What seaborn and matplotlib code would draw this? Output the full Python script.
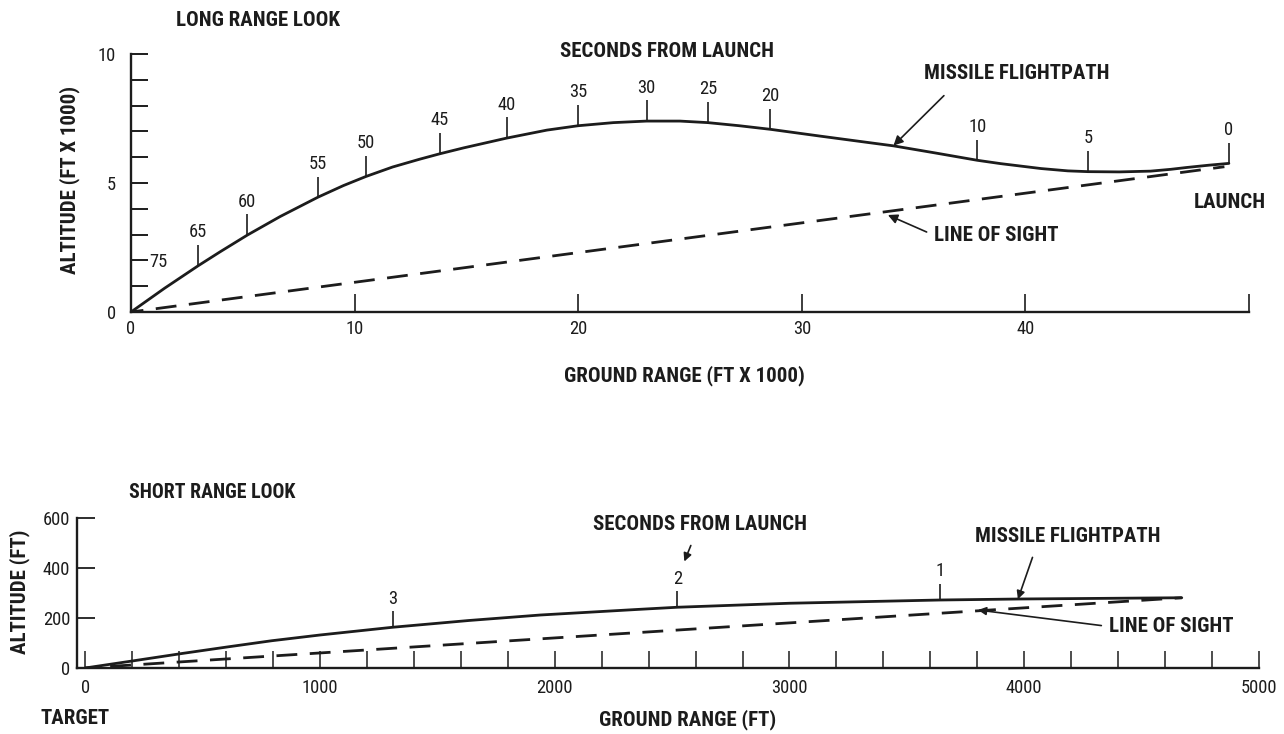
import os
import matplotlib
matplotlib.use("Agg")
import matplotlib.pyplot as plt
from matplotlib import font_manager as fm
from matplotlib.font_manager import FontProperties
from matplotlib.textpath import TextPath
import seaborn as sns
import pandas as pd

# ---------------- data: LONG RANGE LOOK (ft x 1000) ----------------
long_path_x = [0.0, 1.5, 3.0, 3.98, 5.2, 6.67, 8.36, 9.5, 10.5, 11.7, 12.9, 13.8, 14.87,
               16.8, 18.6, 20.0, 21.57, 23.06, 24.55, 25.8, 27.2, 28.6, 30.8, 33.05, 34.1,
               36.0, 37.85, 38.9, 40.7, 41.9, 42.8, 44.2, 45.6, 46.5, 47.2, 48.2, 49.1]
long_path_y = [0.0, 0.92, 1.79, 2.33, 2.98, 3.7, 4.45, 4.9, 5.25, 5.62, 5.92, 6.13, 6.36,
               6.74, 7.05, 7.22, 7.34, 7.40, 7.40, 7.34, 7.22, 7.08, 6.82, 6.56, 6.44,
               6.16, 5.88, 5.75, 5.56, 5.47, 5.44, 5.43, 5.46, 5.53, 5.6, 5.69, 5.76]
long_los_x = [0.0, 48.9]
long_los_y = [0.0, 5.63]

long_sec_labels = ["65", "60", "55", "50", "45", "40", "35", "30", "25", "20", "10", "5", "0"]
long_sec_x = [3.0, 5.2, 8.36, 10.5, 13.8, 16.8, 20.0, 23.06, 25.8, 28.6, 37.85, 42.8, 49.1]
long_sec_y = [1.79, 2.98, 4.45, 5.25, 6.13, 6.74, 7.22, 7.40, 7.34, 7.08, 5.88, 5.44, 5.76]

long_xticks = [0, 10, 20, 30, 40, 50]
long_xticklabels = ["0", "10", "20", "30", "40", ""]
long_yticks = [0, 5, 10]

# ---------------- data: SHORT RANGE LOOK (ft) ----------------
short_path_x = [0, 200, 412, 604, 794, 1000, 1310, 1634, 1939, 2348, 2522, 3000, 3642, 3979, 4671]
short_path_y = [0, 28, 58, 84, 109, 132, 163, 190, 212, 234, 243, 259, 272, 276, 281]
short_los_x = [0, 4671]
short_los_y = [0, 281]

short_sec_labels = ["3", "2", "1"]
short_sec_x = [1310, 2522, 3642]
short_sec_y = [163, 243, 272]

short_xticks = [0, 1000, 2000, 3000, 4000, 5000]
short_yticks = [0, 200, 400, 600]

# ---------------- fonts: look for a condensed face ----------------
def find_condensed(bold):
    prefs = ["liberation sans narrow", "roboto condensed", "dejavu sans condensed",
             "noto sans condensed", "open sans condensed", "condensed", "narrow"]
    best, best_rank = None, 99
    for f in fm.fontManager.ttflist:
        fn = os.path.basename(f.fname).lower()
        name = f.name.lower()
        key = name + " " + fn
        if "italic" in key or "oblique" in key or "extra" in fn or "semi" in fn or "ultra" in fn:
            continue
        if not ("narrow" in key or "condensed" in key):
            continue
        is_bold = ("bold" in fn) or (str(f.weight) in ("bold", "700"))
        if is_bold != bold:
            continue
        if "light" in fn or "thin" in fn or "medium" in fn or "black" in fn:
            continue
        for r, p in enumerate(prefs):
            if p in key or p.replace(" ", "") in fn.replace("-", ""):
                if r < best_rank:
                    best, best_rank = f.fname, r
                break
    return best

bold_file = find_condensed(True)
reg_file = find_condensed(False) or bold_file

def make_fp(path, weight):
    if path:
        return FontProperties(fname=path)
    return FontProperties(family="DejaVu Sans", weight=weight)

fp_cap0 = make_fp(bold_file, "bold")
fp_num0 = make_fp(reg_file, "normal")

def extent_px(text, fp, size):
    ext = TextPath((0, 0), text, size=size, prop=fp).get_extents()
    return ext.width * 100 / 72, ext.height * 100 / 72

CAP = 10 * 183 / extent_px("MISSILE FLIGHTPATH", fp_cap0, 10)[0]
NUM = 10 * 13.5 / extent_px("0", fp_num0, 10)[1]
CAP = min(CAP, 15.5)
NUM = min(NUM, 14)

def fp_cap(size=None):
    p = fp_cap0.copy()
    p.set_size(size or CAP)
    return p

def fp_num(size=None):
    p = fp_num0.copy()
    p.set_size(size or NUM)
    return p

# ---------------- style ----------------
sns.set_style("ticks")
INK = "#1c1c1c"

fig = plt.figure(figsize=(12.84, 7.34), dpi=100)
fig.patch.set_facecolor("white")

ax1 = fig.add_axes([131 / 1284, 1 - 312 / 734, 1118 / 1284, 258 / 734])
ax2 = fig.add_axes([77 / 1284, 1 - 668 / 734, 1182 / 1284, 150 / 734])

def style_axes(ax):
    sns.despine(ax=ax)
    for s in ("left", "bottom"):
        ax.spines[s].set_linewidth(1.7)
        ax.spines[s].set_color(INK)
    ax.set_facecolor("white")

def style_ticklabels(ax):
    for lab in ax.get_xticklabels() + ax.get_yticklabels():
        lab.set_fontproperties(fp_num())
        lab.set_color(INK)

DASH = (3, (7.5, 4.5))
LW = 2.0

# ---------------- top chart ----------------
df_long = pd.DataFrame({"x": long_path_x, "y": long_path_y})
sns.lineplot(data=df_long, x="x", y="y", ax=ax1, color=INK, lw=LW, sort=False, estimator=None)
df_long_los = pd.DataFrame({"x": long_los_x, "y": long_los_y})
sns.lineplot(data=df_long_los, x="x", y="y", ax=ax1, color=INK, lw=LW, sort=False,
             estimator=None, linestyle=DASH)

ax1.set_xlim(0, 50)
ax1.set_ylim(0, 10)
style_axes(ax1)
ax1.set_xticks(long_xticks)
ax1.set_xticklabels(long_xticklabels)
ax1.set_yticks(long_yticks)
ax1.set_yticks(range(0, 11), minor=True)
ax1.tick_params(axis="x", direction="in", length=13, width=1.2, pad=6, colors=INK)
ax1.tick_params(axis="y", which="both", direction="in", length=12, width=1.4, pad=11, colors=INK)
style_ticklabels(ax1)
ax1.set_xlabel("GROUND RANGE (FT X 1000)", fontproperties=fp_cap(), color=INK)
ax1.xaxis.set_label_coords((684 - 131) / 1118, (312 - 365) / 258)
ax1.set_ylabel("ALTITUDE (FT X 1000)", fontproperties=fp_cap(), color=INK)
ax1.yaxis.set_label_coords((80 - 131) / 1118, 0.512)

tick_len1 = 0.8
ax1.vlines(long_sec_x, long_sec_y, [v + tick_len1 for v in long_sec_y], color=INK, lw=1.2)
for lab, x, y in zip(long_sec_labels, long_sec_x, long_sec_y):
    ax1.text(x, y + tick_len1 + 0.15, lab, ha="center", va="bottom", fontproperties=fp_num(),
             color=INK, clip_on=False)
ax1.text(0.8, 1.94, "75", ha="left", va="center", fontproperties=fp_num(), color=INK)

ax1.text(5.68, 11.3, "LONG RANGE LOOK", ha="center", va="center", fontproperties=fp_cap(),
         color=INK, clip_on=False)
ax1.text(23.97, 10.08, "SECONDS FROM LAUNCH", ha="center", va="center", fontproperties=fp_cap(),
         color=INK, clip_on=False)
ax1.annotate("MISSILE FLIGHTPATH", xy=(34.1, 6.45), xytext=(39.6, 9.26),
             ha="center", va="center", fontproperties=fp_cap(), color=INK,
             arrowprops=dict(arrowstyle="-|>", color=INK, lw=1.2, mutation_scale=14,
                             shrinkA=10, shrinkB=0, relpos=(0.18, 0.0)))
ax1.annotate("LINE OF SIGHT", xy=(33.85, 3.76), xytext=(35.9, 2.98),
             ha="left", va="center", fontproperties=fp_cap(), color=INK,
             arrowprops=dict(arrowstyle="-|>", color=INK, lw=1.2, mutation_scale=14,
                             shrinkA=3, shrinkB=0, relpos=(0.0, 0.5)))
ax1.text(49.15, 4.26, "LAUNCH", ha="center", va="center", fontproperties=fp_cap(), color=INK,
         clip_on=False)

# ---------------- bottom chart ----------------
df_short = pd.DataFrame({"x": short_path_x, "y": short_path_y})
sns.lineplot(data=df_short, x="x", y="y", ax=ax2, color=INK, lw=LW, sort=False, estimator=None)
df_short_los = pd.DataFrame({"x": short_los_x, "y": short_los_y})
sns.lineplot(data=df_short_los, x="x", y="y", ax=ax2, color=INK, lw=LW, sort=False,
             estimator=None, linestyle=DASH)

ax2.set_xlim(-35, 5000)
ax2.set_ylim(0, 600)
style_axes(ax2)
ax2.set_xticks(short_xticks)
ax2.set_xticks(range(0, 5001, 200), minor=True)
ax2.set_yticks(short_yticks)
ax2.tick_params(axis="x", which="both", direction="in", length=12, width=1.1, pad=8, colors=INK)
ax2.tick_params(axis="y", direction="in", length=13, width=1.3, pad=5, colors=INK)
style_ticklabels(ax2)
ax2.set_xlabel("GROUND RANGE (FT)", fontproperties=fp_cap(), color=INK)
ax2.xaxis.set_label_coords((688 - 77) / 1182, (668 - 709) / 150)
ax2.set_ylabel("ALTITUDE (FT)", fontproperties=fp_cap(), color=INK)
ax2.yaxis.set_label_coords((30 - 77) / 1182, 0.51)

tick_len2 = 66
ax2.vlines(short_sec_x, short_sec_y, [v + tick_len2 for v in short_sec_y], color=INK, lw=1.2)
for lab, x, y in zip(short_sec_labels, short_sec_x, short_sec_y):
    ax2.text(x, y + tick_len2 + 12, lab, ha="center", va="bottom", fontproperties=fp_num(),
             color=INK, clip_on=False)

ax2.text(540, 700, "SHORT RANGE LOOK", ha="center", va="center", fontproperties=fp_cap(CAP * 0.95),
         color=INK, clip_on=False)
ax2.annotate("SECONDS FROM LAUNCH", xy=(2552, 426), xytext=(2617, 572),
             ha="center", va="center", fontproperties=fp_cap(), color=INK, annotation_clip=False,
             arrowprops=dict(arrowstyle="-|>", color=INK, lw=1.2, mutation_scale=12,
                             shrinkA=6, shrinkB=0, relpos=(0.48, 0.0)))
ax2.annotate("MISSILE FLIGHTPATH", xy=(3973, 275), xytext=(4186, 525),
             ha="center", va="center", fontproperties=fp_cap(), color=INK, annotation_clip=False,
             arrowprops=dict(arrowstyle="-|>", color=INK, lw=1.2, mutation_scale=12,
                             shrinkA=6, shrinkB=0, relpos=(0.33, 0.0)))
ax2.annotate("LINE OF SIGHT", xy=(3803, 232), xytext=(4360, 166),
             ha="left", va="center", fontproperties=fp_cap(), color=INK, annotation_clip=False,
             arrowprops=dict(arrowstyle="-|>", color=INK, lw=1.2, mutation_scale=12,
                             shrinkA=3, shrinkB=0, relpos=(0.0, 0.5)))
ax2.text(-44, -200, "TARGET", ha="center", va="center", fontproperties=fp_cap(), color=INK,
         clip_on=False)

fig.savefig("out.png", dpi=100, facecolor="white")
